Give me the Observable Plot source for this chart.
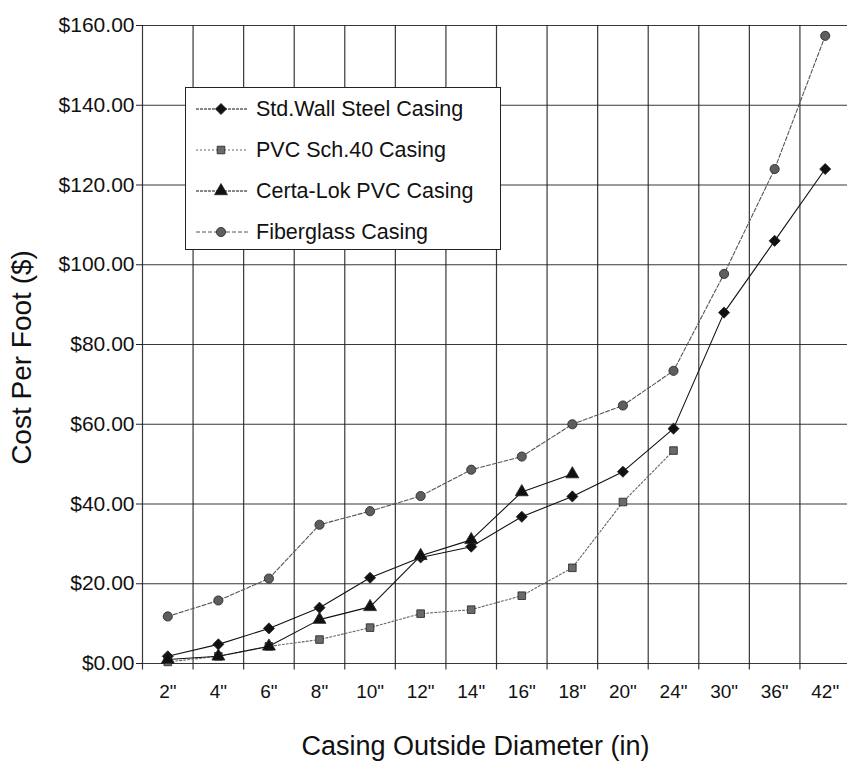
<!DOCTYPE html>
<html>
<head>
<meta charset="utf-8">
<script src="https://cdn.jsdelivr.net/npm/d3@7"></script>
<script src="https://cdn.jsdelivr.net/npm/@observablehq/plot@0.6"></script>
<style>
  html, body { margin: 0; background: #fff; overflow: hidden; }
  #wrap { position: relative; width: 847px; height: 771px; overflow: hidden; font-family: "Liberation Sans", Arial, sans-serif; }
  #legend { position: absolute; left: 185px; top: 87px; width: 316px; height: 163px; border: 1.5px solid #222; background: #fff; box-sizing: border-box; }
  .item { position: absolute; left: 0; height: 30px; display: flex; align-items: center; font-size: 21.5px; color: #111; white-space: nowrap; }
  .item svg { margin-right: 4px; }
</style>
</head>
<body>
<div id="wrap"><div id="legend"></div></div>
<script>
const categories = ['2"', '4"', '6"', '8"', '10"', '12"', '14"', '16"', '18"', '20"', '24"', '30"', '36"', '42"'];
const seriesNames = ["Std.Wall Steel Casing", "PVC Sch.40 Casing", "Certa-Lok PVC Casing", "Fiberglass Casing"];
const steel = [1.8, 4.8, 8.8, 14, 21.5, 26.6, 29.3, 36.8, 41.9, 48.1, 58.9, 88, 106, 124];
const pvc = [0.4, 1.8, 4.3, 6, 9, 12.5, 13.5, 17, 24, 40.5, 53.4, null, null, null];
const certa = [1, 1.8, 4.3, 11, 14.2, 27, 31, 43, 47.5, null, null, null, null, null];
const fiber = [11.8, 15.8, 21.3, 34.8, 38.2, 42, 48.6, 51.9, 60, 64.7, 73.4, 97.7, 124, 157.4];
const yTicks = [0, 20, 40, 60, 80, 100, 120, 140, 160];

const seriesValues = [steel, pvc, certa, fiber];
const styles = [
  {stroke: "#111", dash: null, symbol: "diamond2", fill: "#111", r: 5},
  {stroke: "#666", dash: "2,2", symbol: "square", fill: "#6a6a6a", r: 4.3},
  {stroke: "#111", dash: null, symbol: "triangle", fill: "#111", r: 4.8},
  {stroke: "#555", dash: "4,2", symbol: "circle", fill: "#5e5e5e", r: 4.6}
];

const rows = [];
seriesValues.forEach((vals, s) => vals.forEach((v, i) => {
  if (v != null) rows.push({series: seriesNames[s], s, i, v});
}));

const boundaries = d3.range(categories.length + 1).map(i => i - 0.5);

const marks = [
  Plot.gridY(yTicks, {stroke: "#222", strokeOpacity: 0.9, strokeWidth: 1.2}),
  Plot.ruleX(boundaries, {y1: -1.6, y2: 160, stroke: "#222", strokeOpacity: 0.9, strokeWidth: 1.2}),
  Plot.axisY({ticks: yTicks, tickFormat: d => "$" + d.toFixed(2), tickSize: 6, tickPadding: 2, fontSize: 21, label: null, stroke: "#222"}),
  Plot.axisX({ticks: d3.range(categories.length), tickFormat: i => categories[i], tickSize: 0, tickPadding: 21, fontSize: 19, label: null}),
  Plot.text(["Cost Per Foot ($)"], {frameAnchor: "left", textAnchor: "middle", dx: -120, dy: 13, rotate: -90, fontSize: 28, fill: "#111"}),
  Plot.text(["Casing Outside Diameter (in)"], {frameAnchor: "bottom", dx: -21, dy: 91, fontSize: 27, fill: "#111"})
];
styles.forEach((st, s) => {
  const data = rows.filter(d => d.s === s);
  marks.push(Plot.line(data, {x: "i", y: "v", stroke: st.stroke, strokeWidth: 1.1, strokeDasharray: st.dash}));
  marks.push(Plot.dot(data, {x: "i", y: "v", symbol: () => st.symbol, fill: st.fill, stroke: "#222", strokeWidth: 0.8, r: st.r}));
});

const chart = Plot.plot({
  width: 847,
  height: 771,
  marginLeft: 142,
  marginRight: -3,
  marginTop: 25,
  marginBottom: 108,
  style: {fontFamily: '"Liberation Sans", Arial, sans-serif', color: "#111", background: "#fff"},
  x: {type: "linear", domain: [-0.5, categories.length - 0.5], axis: null},
  y: {domain: [0, 160], axis: null},
  symbol: {type: "identity"},
  marks
});
const wrap = document.getElementById("wrap");
wrap.insertBefore(chart, wrap.firstChild);

const legend = document.getElementById("legend");
const symbolMap = {diamond2: d3.symbolDiamond2, square: d3.symbolSquare, triangle: d3.symbolTriangle, circle: d3.symbolCircle};
seriesNames.forEach((name, s) => {
  const st = styles[s];
  const div = document.createElement("div");
  div.className = "item";
  div.style.top = (6 + s * 41) + "px";
  const sym = d3.symbol(symbolMap[st.symbol], Math.PI * st.r * st.r)();
  div.innerHTML = `<svg width="66" height="20"><line x1="10" x2="62" y1="10" y2="10" stroke="${st.stroke}" stroke-width="1" stroke-dasharray="${st.dash || "3,1"}"/><path d="${sym}" transform="translate(35,10)" fill="${st.fill}" stroke="#222" stroke-width="0.8"/></svg><span>${name}</span>`;
  legend.appendChild(div);
});
</script>
</body>
</html>
